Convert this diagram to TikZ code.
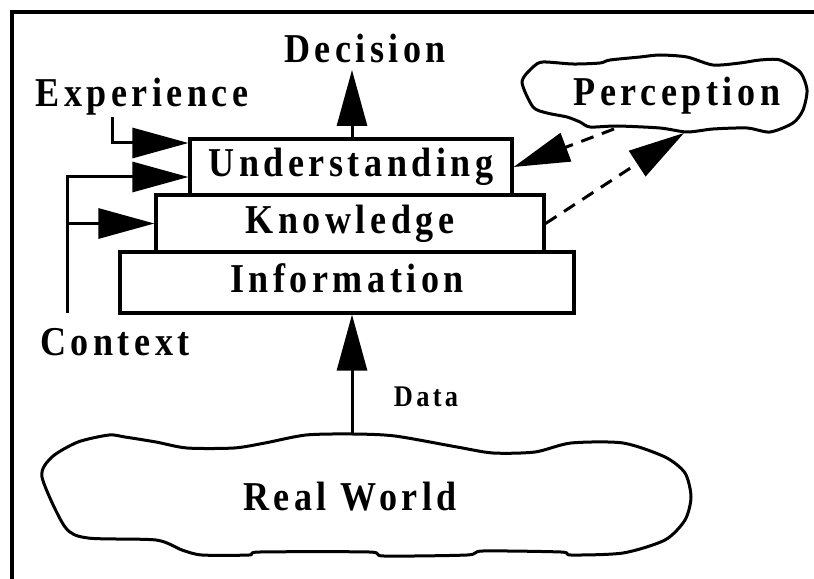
\documentclass[tikz,border=0pt]{standalone}
\usepackage{fontspec}
\setmainfont{Liberation Serif}
\newfontfamily\lblfont{Liberation Serif}[FakeStretch=0.88,LetterSpace=11]
\usetikzlibrary{arrows.meta}
\begin{document}
\begin{tikzpicture}[x=1bp,y=-1bp,
  every node/.style={inner sep=0pt},
  lbl/.style={font=\lblfont\bfseries\fontsize{41bp}{46bp}\selectfont},
  small/.style={font=\lblfont\bfseries\fontsize{30bp}{34bp}\selectfont},
  tier/.style={draw,line width=3.2bp,fill=white,lbl,text height=28bp,text depth=8bp},
  arr/.style={line width=3bp,-{Triangle[length=56bp,width=30bp]}},
  darr/.style={arr,dash pattern=on 13bp off 9bp},
  cloudline/.style={line width=3bp,line join=round,fill=white},
]
\useasboundingbox[fill=white] (0,0) rectangle (814,579);

% outer frame
\draw[line width=4bp] (12,579) -- (12,12) -- (814,12);

% the three stacked tiers
\node[tier,minimum width=454bp,minimum height=61bp] (info) at (347,282.5) {Information};
\node[tier,minimum width=388bp,minimum height=57bp] (know) at (350,223.5) {Knowledge};
\node[tier,minimum width=322bp,minimum height=56bp] (und)  at (351,167)   {Understanding};

% real world cloud
\draw[cloudline] plot[smooth cycle,tension=0.45] coordinates {
  (42,477) (52,457) (78,442) (109,435) (125,437) (156,442) (187,448)
  (234,448) (265,443) (306,435) (353,434) (395,436) (457,447) (493,453)
  (535,452) (571,443) (623,443) (665,457) (685,473) (691,497) (685,520)
  (665,540) (623,553) (571,555) (561,552) (483,551) (467,555) (384,556)
  (369,552) (260,552) (249,555) (202,555) (182,550) (156,540) (88,538)
  (65,527)};
\node[lbl,anchor=base] (world) at (350,510) {Real World};

% perception cloud
\draw[cloudline] plot[smooth cycle,tension=0.45] coordinates {
  (522,82) (533,67) (543,62) (573,64) (600,63) (610,60) (640,57) (660,55)
  (687,57) (713,65) (740,63) (760,60) (780,60) (800,72) (807,90) (803,110)
  (793,123) (770,132) (747,128) (713,129) (687,132) (660,128) (617,126)
  (590,127) (580,122) (567,117) (547,113) (533,107)};
\node[lbl,anchor=base] (perc) at (677,106) {Perception};

% labels
\node[lbl,anchor=base] (dec) at (365,63) {Decision};
\node[lbl,anchor=base] (exp) at (142,107) {Experience};
\node[lbl,anchor=base] (ctx) at (115,355) {Context};
\node[small,anchor=base] (data) at (426,406) {Data};

% connector end points
\coordinate (dectip) at (352,70);
\coordinate (expfoot) at (112,117);
\coordinate (ctxfoot) at (67,313);
\coordinate (rwtop) at (352,434);
\coordinate (percL) at (614,129);
\coordinate (percR) at (684,133);

% connectors
\draw[arr] (und.north -| dectip) -- (dectip);
\draw[arr] (rwtop) -- (rwtop |- info.south);
\draw[arr] (expfoot) |- ([yshift=24bp]und.west);
\draw[arr] (ctxfoot) |- ([yshift=-10bp]und.west);
\draw[arr] (ctxfoot |- know.west) -- (know.west);
\draw[darr] (percL) -- (und.east);
\draw[darr] (know.east) -- (percR);
\end{tikzpicture}
\end{document}
